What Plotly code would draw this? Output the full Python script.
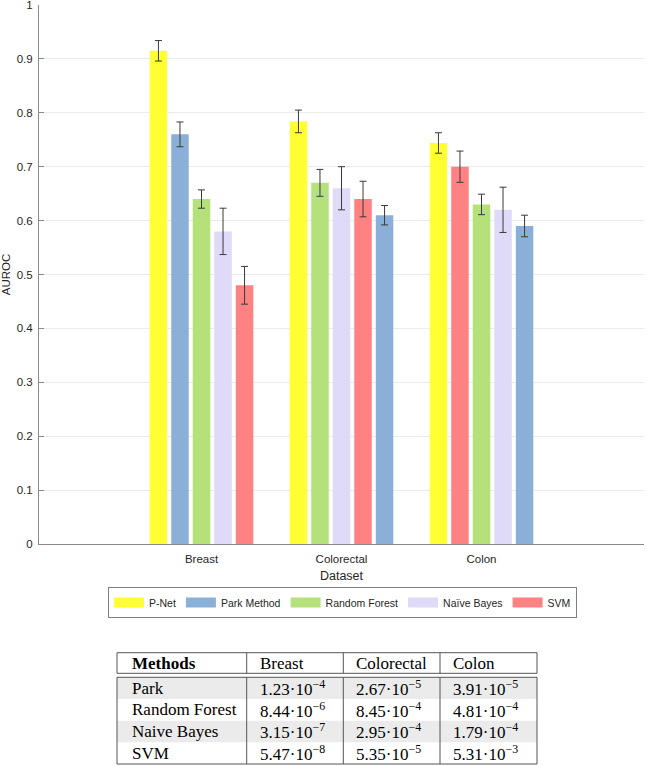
import plotly.graph_objects as go

# ---------------- data ----------------
datasets = ["Breast", "Colorectal", "Colon"]
methods = ["P-Net", "Park Method", "Random Forest", "Naïve Bayes", "SVM"]
auroc = {
    "P-Net":         [0.915, 0.784, 0.744],
    "Park Method":   [0.760, 0.610, 0.590],
    "Random Forest": [0.640, 0.670, 0.630],
    "Naïve Bayes":   [0.580, 0.660, 0.620],
    "SVM":           [0.480, 0.640, 0.700],
}
auroc_err = {
    "P-Net":         [0.019, 0.021, 0.019],
    "Park Method":   [0.023, 0.018, 0.020],
    "Random Forest": [0.017, 0.025, 0.019],
    "Naïve Bayes":   [0.043, 0.040, 0.042],
    "SVM":           [0.035, 0.033, 0.029],
}
colors = {
    "P-Net": "#ffff33",
    "Park Method": "#8bb0d8",
    "Random Forest": "#b4e17a",
    "Naïve Bayes": "#dedaf8",
    "SVM": "#ff8282",
}

table_header = ["Methods", "Breast", "Colorectal", "Colon"]
table_methods = ["Park", "Random Forest", "Naive Bayes", "SVM"]
table_breast = ["1.23·10<sup>−4</sup>", "8.44·10<sup>−6</sup>", "3.15·10<sup>−7</sup>", "5.47·10<sup>−8</sup>"]
table_colorectal = ["2.67·10<sup>−5</sup>", "8.45·10<sup>−4</sup>", "2.95·10<sup>−4</sup>", "5.35·10<sup>−5</sup>"]
table_colon = ["3.91·10<sup>−5</sup>", "4.81·10<sup>−4</sup>", "1.79·10<sup>−4</sup>", "5.31·10<sup>−3</sup>"]
y_ticks = [0, 0.1, 0.2, 0.3, 0.4, 0.5, 0.6, 0.7, 0.8, 0.9, 1]
y_ticktext = ["0", "0.1", "0.2", "0.3", "0.4", "0.5", "0.6", "0.7", "0.8", "0.9", "1"]

# ---------------- layout helpers ----------------
W, H = 647, 766
ML, MR, MT, MB = 39, 3, 5, 1
PW, PH = W - ML - MR, H - MT - MB


def px2x(px):
    return (px - ML) / PW


def py2y(py):
    return (H - MB - py) / PH


pitch = 0.1538
barw = 0.125

fig = go.Figure()

# rank of each method within each dataset (descending AUROC)
xpos = {m: [] for m in methods}
for gi in range(len(datasets)):
    order = sorted(methods, key=lambda m: -auroc[m][gi])
    for r, m in enumerate(order):
        xpos[m].append(gi + 1 + (r - 2) * pitch)

for m in methods:
    fig.add_trace(go.Bar(
        x=xpos[m], y=auroc[m], width=barw, name=m,
        marker=dict(color=colors[m], line=dict(width=0)),
        error_y=dict(type="data", array=auroc_err[m], color="#3a3a3a",
                     thickness=1, width=3.5),
        showlegend=False,
    ))
    # legend entry with wide rectangular swatch
    fig.add_trace(go.Scatter(
        x=[None], y=[None], mode="lines", name=m,
        line=dict(color=colors[m], width=11),
        showlegend=True,
    ))

axis_font = dict(family="Liberation Sans, Arial", size=11.5, color="#262626")

fig.update_layout(
    width=W, height=H,
    margin=dict(l=ML, r=MR, t=MT, b=MB),
    paper_bgcolor="white", plot_bgcolor="white",
    barmode="overlay",
    font=dict(family="Liberation Sans, Arial", color="#262626"),
    xaxis=dict(
        range=[-0.1607, 4.1607], tickvals=[1, 2, 3], ticktext=datasets,
        showgrid=False, zeroline=False, showline=True, linecolor="#8a8a8a",
        linewidth=1, ticks="", tickfont=axis_font, automargin=False,
        ticklabelstandoff=4,
        title=dict(text="Dataset", font=dict(size=12.5, color="#262626"), standoff=7),
        anchor="y",
    ),
    yaxis=dict(
        domain=[py2y(544), 1], range=[0, 1],
        tickvals=y_ticks, ticktext=y_ticktext, ticklabeloverflow="allow",
        showgrid=True, gridcolor="#ebebeb", gridwidth=1, zeroline=False,
        showline=True, linecolor="#8a8a8a", linewidth=1, automargin=False,
        ticks="inside", ticklen=5, tickcolor="#8a8a8a", tickfont=axis_font,
        ticklabelstandoff=3,
        title=dict(text="AUROC", font=dict(size=11.5, color="#262626"), standoff=4),
    ),
    legend=dict(
        orientation="h", x=px2x(108), y=py2y(602.5), xanchor="left", yanchor="middle",
        bordercolor="#808080", borderwidth=1, bgcolor="white",
        font=dict(family="Liberation Sans, Arial", size=10.5, color="#262626"),
        itemwidth=30, tracegroupgap=0,
    ),
)

# ---------------- table ----------------
tx = [117, 246.7, 343.3, 440, 537]
head_top, head_bot = 652.7, 673.3
body_top, body_bot = 677.3, 764
row_h = (body_bot - body_top) / len(table_methods)
line_col = "#555555"
shapes = []
# stripes
for i in range(len(table_methods)):
    if i % 2 == 0:
        shapes.append(dict(type="rect", xref="paper", yref="paper",
                           x0=px2x(tx[0]), x1=px2x(tx[-1]),
                           y0=py2y(body_top + i * row_h), y1=py2y(body_top + (i + 1) * row_h),
                           fillcolor="#ebebeb", line=dict(width=0), layer="below"))
# boxes
for (t, b) in [(head_top, head_bot), (body_top, body_bot)]:
    shapes.append(dict(type="rect", xref="paper", yref="paper",
                       x0=px2x(tx[0]), x1=px2x(tx[-1]), y0=py2y(b), y1=py2y(t),
                       line=dict(color=line_col, width=1), fillcolor="rgba(0,0,0,0)"))
    for cx in tx[1:-1]:
        shapes.append(dict(type="line", xref="paper", yref="paper",
                           x0=px2x(cx), x1=px2x(cx), y0=py2y(b), y1=py2y(t),
                           line=dict(color=line_col, width=1)))
fig.update_layout(shapes=shapes)

serif = dict(family="Liberation Serif, Times New Roman", size=17, color="black")
pads = [13, 11, 11, 11]
annotations = []
for ci, h in enumerate(table_header):
    txt = "<b>%s</b>" % h if ci == 0 else h
    annotations.append(dict(xref="paper", yref="paper", x=px2x(tx[ci] + pads[ci]),
                            y=py2y((head_top + head_bot) / 2), text=txt, showarrow=False,
                            xanchor="left", yanchor="middle", font=serif))
cols = [table_methods, table_breast, table_colorectal, table_colon]
for ci, col in enumerate(cols):
    for ri, v in enumerate(col):
        annotations.append(dict(xref="paper", yref="paper", x=px2x(tx[ci] + pads[ci]),
                                y=py2y(body_top + (ri + 0.5) * row_h), text=v, showarrow=False,
                                xanchor="left", yanchor="middle", font=serif))
fig.update_layout(annotations=annotations)

fig.write_html("out.html", config={"displayModeBar": False},
               post_script="document.body.style.margin='0';document.body.style.padding='0';")
